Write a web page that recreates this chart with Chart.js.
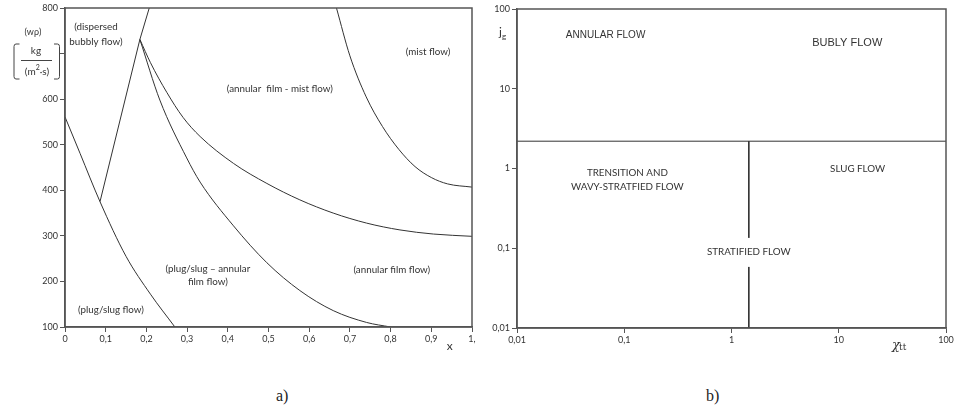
<!DOCTYPE html>
<html>
<head>
<meta charset="utf-8">
<script src="https://cdn.jsdelivr.net/npm/chart.js@4"></script>
<style>
  html, body { margin: 0; padding: 0; background: #fff; }
  #wrap { position: relative; width: 956px; height: 415px; overflow: hidden; }
  #chartA { position: absolute; left: 0; top: 0; width: 480px; height: 360px; }
  #chartB { position: absolute; left: 480px; top: 0; width: 476px; height: 360px; }
  .cap { position: absolute; top: 387px; font: 16px "Liberation Serif", "DejaVu Serif", serif; color: #222; }
</style>
</head>
<body>
<div id="wrap">
  <canvas id="chartA" width="480" height="360"></canvas>
  <canvas id="chartB" width="476" height="360"></canvas>
  <div class="cap" style="left:276px">a)</div>
  <div class="cap" style="left:706px">b)</div>
</div>
<script>
// ---- chart a) : mass flux (w rho) vs quality x ----
const xTicksA = [0, 0.1, 0.2, 0.3, 0.4, 0.5, 0.6, 0.7, 0.8, 0.9, 1.0];
const yTicksA = [100, 200, 300, 400, 500, 600, 700, 800];

// boundary curves, [x, w*rho]
const slugLine = [[0, 561], [0.037, 481], [0.086, 375], [0.15, 255], [0.21, 172], [0.27, 100]];
const bubblyLine = [[0.086, 375], [0.184, 731], [0.207, 800]];
const annularLower = [[0.184, 731], [0.233, 598], [0.299, 471], [0.332, 418], [0.414, 322], [0.496, 241], [0.577, 180], [0.659, 136], [0.741, 110], [0.80, 100]];
const annularUpper = [[0.184, 731], [0.21, 680], [0.25, 615], [0.29, 560], [0.332, 518], [0.414, 459], [0.496, 415], [0.577, 379], [0.659, 350], [0.741, 328], [0.823, 313], [0.905, 304], [1.0, 299]];
const mistLine = [[0.667, 800], [0.70, 695], [0.74, 605], [0.78, 540], [0.82, 490], [0.86, 452], [0.90, 428], [0.94, 414], [1.0, 407]];

const regionsA = [
  { text: '(dispersed', x: 0.076, y: 758 },
  { text: 'bubbly flow)', x: 0.076, y: 725 },
  { text: '(annular  film - mist flow)', x: 0.528, y: 622 },
  { text: '(mist flow)', x: 0.892, y: 703 },
  { text: '(plug/slug \u2013 annular', x: 0.351, y: 228 },
  { text: 'film flow)', x: 0.351, y: 199 },
  { text: '(annular film flow)', x: 0.803, y: 225 },
  { text: '(plug/slug flow)', x: 0.113, y: 137 }
];

// ---- chart b) : j_g vs Xtt (log-log) ----
const tickValsB = [0.01, 0.1, 1, 10, 100];
const tickLabelsB = ['0,01', '0,1', '1', '10', '100'];
const horizBorder = [[0.01, 2.2], [100, 2.2]];
const vertBorder = [[1.45, 2.2], [1.45, 0.01]];

const regionsB = [
  { text: 'ANNULAR FLOW', x: 0.067, y: 47, font: '10px "Liberation Sans", Arial, sans-serif' },
  { text: 'BUBLY FLOW', x: 12, y: 37, font: '11px "Liberation Sans", Arial, sans-serif' },
  { text: 'TRENSITION AND', x: 0.107, y: 0.88 },
  { text: 'WAVY-STRATFIED FLOW', x: 0.107, y: 0.59 },
  { text: 'SLUG FLOW', x: 15, y: 0.98 },
  { text: 'STRATIFIED FLOW', x: 1.45, y: 0.09, gap: true }
];

const lineCol = '#333';
const axisCol = '#555';
const tickFont = { family: 'Lato, "Open Sans", sans-serif', size: 9 };
const labelFont = '9.8px Lato, "Open Sans", sans-serif';

function pts(arr) {
  return arr.map(([x, y]) => ({ x: x, y: y }));
}

function curve(arr, smooth) {
  return {
    data: pts(arr),
    showLine: true,
    borderColor: lineCol,
    borderWidth: 1,
    pointRadius: 0,
    cubicInterpolationMode: smooth ? 'monotone' : 'default',
    tension: 0
  };
}

function frameAndText(items) {
  return {
    id: 'frameAndText',
    afterDatasetsDraw(chart) {
      const { ctx, chartArea: a, scales } = chart;
      ctx.save();
      ctx.strokeStyle = axisCol;
      ctx.lineWidth = 1.5;
      ctx.strokeRect(a.left, a.top, a.right - a.left, a.bottom - a.top);
      ctx.textAlign = 'center';
      ctx.textBaseline = 'middle';
      items.forEach(it => {
        const px = scales.x.getPixelForValue(it.x);
        const py = scales.y.getPixelForValue(it.y);
        ctx.font = it.font || labelFont;
        if (it.gap) {
          const w = ctx.measureText(it.text).width;
          ctx.fillStyle = '#fff';
          ctx.fillRect(px - w / 2 - 2, py - 14, w + 4, 29);
        }
        ctx.fillStyle = '#333';
        ctx.fillText(it.text, px, py);
      });
      ctx.restore();
    }
  };
}

function axisOpts(extra) {
  return Object.assign({
    grid: { drawOnChartArea: false, drawTicks: true, tickLength: 5, color: axisCol, lineWidth: 1 },
    border: { display: true, color: axisCol, width: 1.5 },
    ticks: { font: tickFont, color: '#333', padding: 2, maxRotation: 0, autoSkip: false }
  }, extra);
}

// unit label and axis title for chart a
const unitPlugin = {
  id: 'unitA',
  afterDraw(chart) {
    const ctx = chart.ctx;
    const a = chart.chartArea;
    ctx.save();
    ctx.fillStyle = '#333';
    ctx.strokeStyle = '#444';
    ctx.lineWidth = 1;
    ctx.textAlign = 'center';
    ctx.textBaseline = 'middle';
    ctx.font = '9px Lato, sans-serif';
    ctx.fillText('(w\u03C1)', 33, 32);
    ctx.font = '10px Lato, sans-serif';
    ctx.fillText('kg', 36, 51);
    ctx.beginPath();
    ctx.moveTo(21, 60.5); ctx.lineTo(52, 60.5);
    ctx.stroke();
    // (m²·s)
    ctx.textAlign = 'left';
    const p1 = '(m', p3 = '\u00B7s)';
    ctx.font = '10px Lato, sans-serif';
    const w1 = ctx.measureText(p1).width, w3 = ctx.measureText(p3).width;
    ctx.font = '7px Lato, sans-serif';
    const w2 = ctx.measureText('2').width;
    let sx = 37 - (w1 + w2 + w3) / 2;
    ctx.font = '10px Lato, sans-serif';
    ctx.fillText(p1, sx, 72);
    ctx.font = '7px Lato, sans-serif';
    ctx.fillText('2', sx + w1, 68);
    ctx.font = '10px Lato, sans-serif';
    ctx.fillText(p3, sx + w1 + w2, 72);
    // brackets
    ctx.beginPath();
    ctx.moveTo(19.5, 44); ctx.lineTo(16, 44); ctx.quadraticCurveTo(14, 44, 14, 46.5);
    ctx.lineTo(14, 76.5); ctx.quadraticCurveTo(14, 79, 16, 79); ctx.lineTo(19.5, 79);
    ctx.moveTo(54, 44); ctx.lineTo(57.5, 44); ctx.quadraticCurveTo(59.5, 44, 59.5, 46.5);
    ctx.lineTo(59.5, 76.5); ctx.quadraticCurveTo(59.5, 79, 57.5, 79); ctx.lineTo(54, 79);
    ctx.stroke();
    // x title
    ctx.textAlign = 'center';
    ctx.font = '12px Lato, sans-serif';
    ctx.fillText('x', chart.scales.x.getPixelForValue(0.945), a.bottom + 19);
    ctx.restore();
  }
};

const titlePluginB = {
  id: 'titlesB',
  afterDraw(chart) {
    const ctx = chart.ctx;
    const a = chart.chartArea;
    ctx.save();
    ctx.fillStyle = '#333';
    ctx.textBaseline = 'middle';
    ctx.textAlign = 'left';
    ctx.font = '12px Lato, sans-serif';
    ctx.fillText('j', a.left - 18, 32);
    ctx.font = '8px Lato, sans-serif';
    ctx.fillText('g', a.left - 15, 36);
    const px = chart.scales.x.getPixelForValue(35);
    ctx.font = 'italic 13px "DejaVu Serif", serif';
    ctx.fillText('\u03C7', px - 5, a.bottom + 18);
    ctx.font = '9px "DejaVu Serif", serif';
    ctx.fillText('tt', px + 2, a.bottom + 20);
    ctx.restore();
  }
};

new Chart(document.getElementById('chartA'), {
  type: 'scatter',
  data: {
    datasets: [
      curve(slugLine, true),
      curve(bubblyLine, false),
      curve(annularLower, true),
      curve(annularUpper, true),
      curve(mistLine, true)
    ]
  },
  options: {
    responsive: false,
    animation: false,
    layout: { padding: { top: 8, right: 8, left: 0, bottom: 0 } },
    plugins: { legend: { display: false }, tooltip: { enabled: false } },
    scales: {
      x: axisOpts({
        type: 'linear', min: 0, max: 1,
        afterBuildTicks: s => { s.ticks = xTicksA.map(v => ({ value: v })); },
        afterFit: s => { s.height = 33; },
        ticks: Object.assign({}, axisOpts().ticks, {
          callback: v => v === 0 ? '0' : (v === 1 ? '1,' : (Math.round(v * 10) / 10).toFixed(1).replace('.', ','))
        })
      }),
      y: axisOpts({
        type: 'linear', min: 100, max: 800,
        afterBuildTicks: s => { s.ticks = yTicksA.map(v => ({ value: v })); },
        afterFit: s => { s.width = 65; },
        ticks: Object.assign({}, axisOpts().ticks, {
          callback: v => v === 700 ? '' : String(v)
        })
      })
    }
  },
  plugins: [frameAndText(regionsA), unitPlugin]
});

new Chart(document.getElementById('chartB'), {
  type: 'scatter',
  data: {
    datasets: [
      curve(horizBorder, false),
      curve(vertBorder, false)
    ]
  },
  options: {
    responsive: false,
    animation: false,
    layout: { padding: { top: 9, right: 10, left: 0, bottom: 0 } },
    plugins: { legend: { display: false }, tooltip: { enabled: false } },
    scales: {
      x: axisOpts({
        type: 'logarithmic', min: 0.01, max: 100,
        afterBuildTicks: s => { s.ticks = tickValsB.map(v => ({ value: v })); },
        afterFit: s => { s.height = 32; },
        ticks: Object.assign({}, axisOpts().ticks, {
          callback: v => tickLabelsB[tickValsB.indexOf(v)]
        })
      }),
      y: axisOpts({
        type: 'logarithmic', min: 0.01, max: 100,
        afterBuildTicks: s => { s.ticks = tickValsB.map(v => ({ value: v })); },
        afterFit: s => { s.width = 37; },
        ticks: Object.assign({}, axisOpts().ticks, {
          callback: v => tickLabelsB[tickValsB.indexOf(v)]
        })
      })
    }
  },
  plugins: [frameAndText(regionsB), titlePluginB]
});
</script>
</body>
</html>
